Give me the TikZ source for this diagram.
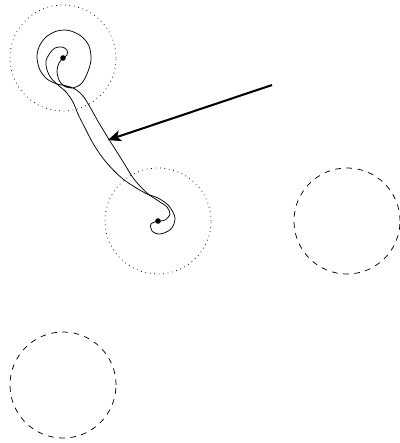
\documentclass[tikz,border=0pt]{standalone}
\usetikzlibrary{arrows.meta}
\begin{document}
\begin{tikzpicture}[x=0.5366pt,y=-0.5366pt,
  guide/.style={draw,circle,minimum size=2cm,inner sep=0pt,dotted},
  ghost/.style={draw,circle,minimum size=2cm,inner sep=0pt,dashed},
  curl/.style={smooth,tension=0.55,line width=0.6pt},
  pin/.style={fill,circle,inner sep=0pt,minimum size=3pt},
  pointer/.style={line width=1.1pt,-{Stealth[length=7pt,width=6pt,inset=1.8pt]}}]
\useasboundingbox (0,0) rectangle (400,443);
\coordinate (A) at (63,58);
\coordinate (B) at (158,221);
\node[guide] (gA) at (A) {};
\node[guide] (gB) at (B) {};
\node[ghost] (gC) at (347,221) {};
\node[ghost] (gD) at (63,385) {};
% first strand: hook at A, left edge, outer loop at B
\draw plot[curl] coordinates {(63,58) (67,55) (67,50) (62,47) (55,48) (50,53) (46,61) (47,70) (51,78) (58,85) (66,92) (73,102) (78,114) (85,128) (94,145) (106,162) (123,179) (145,193) (158,198) (169,206) (175,218) (171,229) (160,234) (152,231) (151,224) (158,221)};
% second strand: big loop at A, right edge, inner arc at B
\draw plot[curl] coordinates {(63,58) (59,63) (57,71) (59,80) (64,86) (72,88) (81,84) (87,74) (91,60) (89,46) (81,36) (69,30.5) (57,31) (46,37) (39,47) (37,58) (40,70) (47,79) (57,84) (67,86) (75,89) (83,96) (90,107) (99,123) (110,141) (122,160) (134,179) (147,193) (160,202) (167,207) (170,214) (165,220) (158,221)};
\node[pin] (pA) at (A) {};
\node[pin] (pB) at (B) {};
\coordinate (arrS) at (272,85);
\coordinate (arrE) at (108,140);
\draw[pointer] (arrS) -- (arrE);
\end{tikzpicture}
\end{document}
